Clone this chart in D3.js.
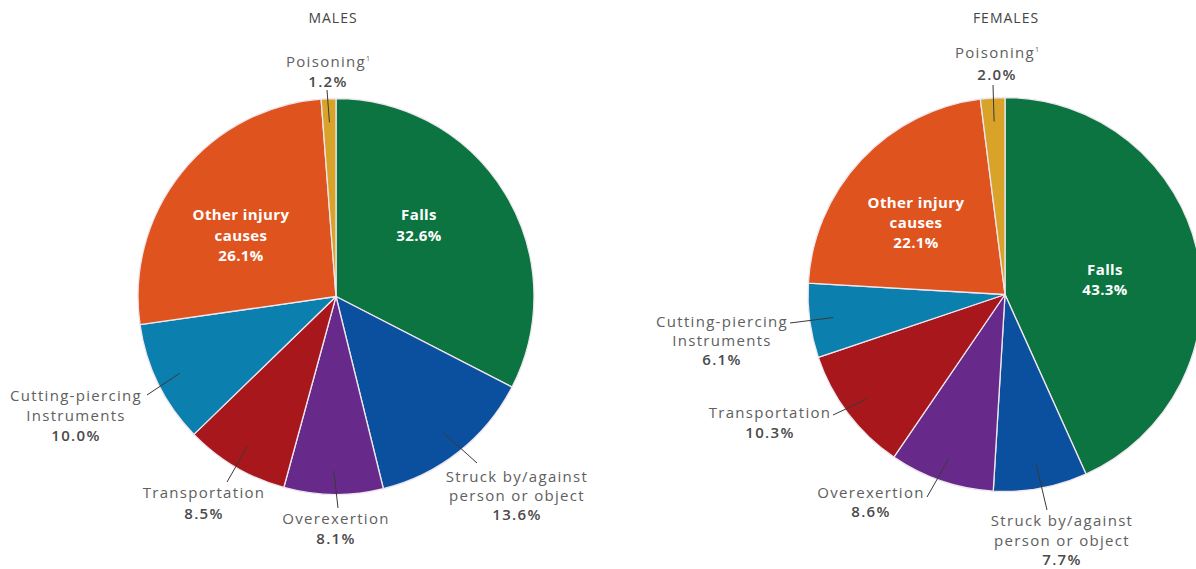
<!DOCTYPE html>
<html>
<head>
<meta charset="utf-8">
<script src="https://cdn.jsdelivr.net/npm/d3@7"></script>
<style>
  html, body { margin: 0; padding: 0; background: #ffffff; }
  svg { display: block; }
  text { font-family: "Open Sans", "Liberation Sans", sans-serif; }
</style>
</head>
<body>
<svg id="chart" width="1196" height="569"></svg>
<script>
// Injury causes, share of cases (%)
const categories = [
  "Falls",
  "Struck by/against person or object",
  "Overexertion",
  "Transportation",
  "Cutting-piercing Instruments",
  "Other injury causes",
  "Poisoning"
];
const labelLines = [
  ["Falls"],
  ["Struck by/against", "person or object"],
  ["Overexertion"],
  ["Transportation"],
  ["Cutting-piercing", "Instruments"],
  ["Other injury", "causes"],
  ["Poisoning"]
];
const malesValues   = [32.6, 13.6, 8.1, 8.5, 10.0, 26.1, 1.2];
const femalesValues = [43.3, 7.7, 8.6, 10.3, 6.1, 22.1, 2.0];
const panelTitles = ["MALES", "FEMALES"];

const colors = ["#0b7440", "#0b4f9f", "#672a8b", "#a8171b", "#0b7fae", "#df531f", "#d9a228"];
const insideLabels = new Set(["Falls", "Other injury causes"]);

// Layout per panel: pie centre/radius, label anchors and leader end points
// (relative to the pie centre).
const panels = [
  {
    title: panelTitles[0], values: malesValues, cx: 336, cy: 296.5, r: 198, titleX: 333,
    labels: {
      "Falls": { x: 83, y: -76.5, dy: 21 },
      "Other injury causes": { x: -95, y: -76.5, dy: 20.5 },
      "Poisoning": { x: -8, y: -229.5, dy: 20, lead: [-9, -206.5] },
      "Struck by/against person or object": { x: 181, y: 185.5, dy: 19, lead: [141, 166.5] },
      "Overexertion": { x: 0, y: 227.5, dy: 19.5, lead: [2, 211.5] },
      "Transportation": { x: -132, y: 201.5, dy: 21, lead: [-109, 185.5] },
      "Cutting-piercing Instruments": { x: -260, y: 104.5, dy: 20, lead: [-189, 98.5] }
    }
  },
  {
    title: panelTitles[1], values: femalesValues, cx: 1005, cy: 294.5, r: 197, titleX: 1006,
    labels: {
      "Falls": { x: 100, y: -19.5, dy: 19.5 },
      "Other injury causes": { x: -89, y: -86.5, dy: 20 },
      "Poisoning": { x: -8, y: -236.5, dy: 22, lead: [-12, -209.5] },
      "Struck by/against person or object": { x: 57, y: 231.5, dy: 19.5, lead: [42, 215.5] },
      "Overexertion": { x: -134, y: 203.5, dy: 19, lead: [-78, 202.5] },
      "Transportation": { x: -235, y: 123.5, dy: 20, lead: [-172, 120.5] },
      "Cutting-piercing Instruments": { x: -283, y: 32.5, dy: 19, lead: [-215, 28.5] }
    }
  }
];

const svg = d3.select("#chart");
const color = d3.scaleOrdinal().domain(categories).range(colors);
const pie = d3.pie().sort(null).value(d => d.value);

panels.forEach(p => {
  const data = categories.map((c, i) => ({ cat: c, lines: labelLines[i], value: p.values[i] }));
  const arcs = pie(data);
  const arc = d3.arc().innerRadius(0).outerRadius(p.r);
  const leadArc = d3.arc().innerRadius(p.r * 0.88).outerRadius(p.r * 0.88);

  svg.append("text")
    .attr("x", p.titleX).attr("y", 23)
    .attr("text-anchor", "middle")
    .attr("font-size", 14).attr("fill", "#444")
    .attr("letter-spacing", 1)
    .text(p.title);

  const g = svg.append("g").attr("transform", `translate(${p.cx},${p.cy})`);

  g.selectAll("path.slice")
    .data(arcs)
    .join("path")
    .attr("class", "slice")
    .attr("d", arc)
    .attr("fill", d => color(d.data.cat))
    .attr("stroke", "#efe6ee")
    .attr("stroke-width", 1.3)
    .attr("stroke-linejoin", "round");

  // leader lines for the labels placed outside the pie
  arcs.forEach(a => {
    const L = p.labels[a.data.cat];
    if (!L.lead) return;
    const [x0, y0] = leadArc.centroid(a);
    g.append("line")
      .attr("x1", x0).attr("y1", y0)
      .attr("x2", L.lead[0]).attr("y2", L.lead[1])
      .attr("stroke", "#3a3a3a")
      .attr("stroke-width", 1);
  });

  arcs.forEach(a => {
    const L = p.labels[a.data.cat];
    const inside = insideLabels.has(a.data.cat);
    const t = g.append("text")
      .attr("text-anchor", "middle")
      .attr("font-size", 15)
      .attr("letter-spacing", inside ? 0.4 : 1.3)
      .attr("font-weight", inside ? 700 : 400)
      .attr("fill", inside ? "#ffffff" : "#606060");
    const lines = a.data.lines.concat([a.data.value.toFixed(1) + "%"]);
    lines.forEach((ln, i) => {
      const ts = t.append("tspan")
        .attr("x", L.x)
        .attr("y", L.y + i * L.dy)
        .text(ln);
      if (!inside && i === lines.length - 1) ts.attr("fill", "#4a4a4a").attr("font-weight", 600);
      if (a.data.cat === "Poisoning" && i === 0) {
        t.append("tspan")
          .attr("font-size", 7)
          .attr("dy", -6)
          .attr("letter-spacing", 0)
          .text("1");
      }
    });
  });
});
</script>
</body>
</html>
